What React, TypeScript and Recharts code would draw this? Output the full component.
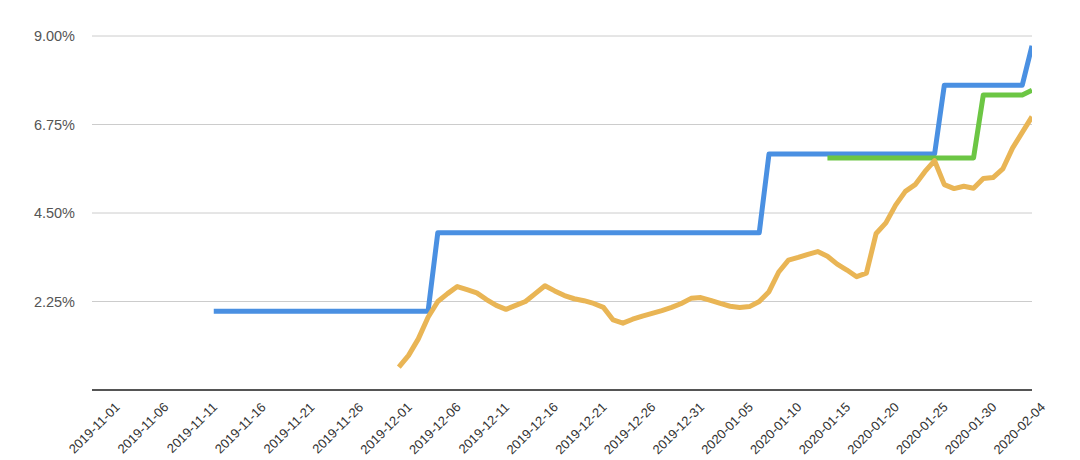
import React from 'react';
import { LineChart, Line, XAxis, YAxis, CartesianGrid } from 'recharts';

// x tick labels, one every 5 days (day index 0 = 2019-11-01)
const xTickLabels = [
  '2019-11-01', '2019-11-06', '2019-11-11', '2019-11-16', '2019-11-21',
  '2019-11-26', '2019-12-01', '2019-12-06', '2019-12-11', '2019-12-16',
  '2019-12-21', '2019-12-26', '2019-12-31', '2020-01-05', '2020-01-10',
  '2020-01-15', '2020-01-20', '2020-01-25', '2020-01-30', '2020-02-04',
];
const xTickDays = [0, 5, 10, 15, 20, 25, 30, 35, 40, 45, 50, 55, 60, 65, 70, 75, 80, 85, 90, 95];
const yTicks = [2.25, 4.5, 6.75, 9];

// blue series: from day 11 (2019-11-12) to day 95 (2020-02-04)
const blueStart = 11;
const blueValues = [
  2.0, 2.0, 2.0, 2.0, 2.0, 2.0, 2.0, 2.0, 2.0, 2.0, 2.0, 2.0, 2.0, 2.0, 2.0, 2.0, 2.0, 2.0, 2.0, 2.0, 2.0, 2.0, 2.0,
  4.0, 4.0, 4.0, 4.0, 4.0, 4.0, 4.0, 4.0, 4.0, 4.0, 4.0, 4.0, 4.0, 4.0, 4.0, 4.0, 4.0,
  4.0, 4.0, 4.0, 4.0, 4.0, 4.0, 4.0, 4.0, 4.0, 4.0, 4.0, 4.0, 4.0, 4.0, 4.0, 4.0, 4.0,
  6.0, 6.0, 6.0, 6.0, 6.0, 6.0, 6.0, 6.0, 6.0, 6.0, 6.0, 6.0, 6.0, 6.0, 6.0, 6.0, 6.0, 6.0,
  7.75, 7.75, 7.75, 7.75, 7.75, 7.75, 7.75, 7.75, 7.75,
  8.75,
];

// green series: from day 74 (2020-01-13) to day 95
const greenStart = 74;
const greenValues = [
  5.9, 5.9, 5.9, 5.9, 5.9, 5.9, 5.9, 5.9, 5.9, 5.9, 5.9, 5.9, 5.9, 5.9, 5.9, 5.9,
  7.5, 7.5, 7.5, 7.5, 7.5,
  7.62,
];

// orange series: from day 30 (2019-12-01) to day 95
const orangeStart = 30;
const orangeValues = [
  0.58, 0.88, 1.3, 1.85, 2.25, 2.45, 2.63, 2.55, 2.47, 2.3,
  2.15, 2.05, 2.15, 2.25, 2.45, 2.65, 2.52, 2.4, 2.32, 2.27,
  2.2, 2.1, 1.78, 1.7, 1.8, 1.88, 1.95, 2.02, 2.1, 2.2,
  2.33, 2.35, 2.28, 2.2, 2.13, 2.1, 2.12, 2.25, 2.5, 3.0,
  3.3, 3.37, 3.45, 3.52, 3.4, 3.2, 3.05, 2.88, 2.97, 3.98,
  4.25, 4.7, 5.05, 5.22, 5.55, 5.83, 5.22, 5.12, 5.18, 5.13,
  5.38, 5.4, 5.62, 6.15, 6.55, 6.95,
];

const LAST_DAY = 95;

const rows: any[] = [];
for (let d = 0; d <= LAST_DAY; d++) {
  const row: any = { d };
  if (d >= blueStart && d - blueStart < blueValues.length) row.blue = blueValues[d - blueStart];
  if (d >= greenStart && d - greenStart < greenValues.length) row.green = greenValues[d - greenStart];
  if (d >= orangeStart && d - orangeStart < orangeValues.length) row.orange = orangeValues[d - orangeStart];
  rows.push(row);
}

const labelFor = (d: number) => {
  const i = xTickDays.indexOf(d);
  return i >= 0 ? xTickLabels[i] : '';
};

const XTick = (props: any) => {
  const { x, y, payload } = props;
  const ax = x + 14;
  const ay = y + 18;
  return (
    <text
      x={ax}
      y={ay}
      transform={`rotate(-45 ${ax} ${ay})`}
      textAnchor="end"
      fill="#333"
      fontSize={13}
      fontFamily="Liberation Sans, Arial, sans-serif"
    >
      {labelFor(payload.value)}
    </text>
  );
};

export default function App() {
  return (
    <div style={{ position: 'absolute', left: 0, top: 0, width: 1080, height: 460, background: '#fff', overflow: 'hidden' }}>
      <LineChart
        width={1080}
        height={460}
        data={rows}
        margin={{ top: 36, right: 48, bottom: 0, left: 8 }}
      >
        <CartesianGrid horizontal vertical={false} stroke="#cccccc" strokeWidth={1} />
        <XAxis
          dataKey="d"
          type="number"
          domain={[-1.5, 95]}
          ticks={xTickDays}
          interval={0}
          tick={<XTick />}
          tickLine={false}
          tickSize={0}
          tickMargin={0}
          height={70}
          axisLine={{ stroke: '#555', strokeWidth: 2 }}
          allowDataOverflow
        />
        <YAxis
          type="number"
          domain={[0, 9]}
          ticks={yTicks}
          width={84}
          axisLine={false}
          tickLine={false}
          tickSize={0}
          tickMargin={17}
          tickFormatter={(v: number) => `${v.toFixed(2)}%`}
          tick={{ fill: '#555', fontSize: 14.5, fontFamily: 'Liberation Sans, Arial, sans-serif' }}
        />
        <Line
          type="linear"
          dataKey="blue"
          stroke="#4a90e2"
          strokeWidth={5}
          dot={false}
          activeDot={false}
          strokeLinejoin="round"
          isAnimationActive={false}
        />
        <Line
          type="linear"
          dataKey="green"
          stroke="#6cc644"
          strokeWidth={5}
          dot={false}
          activeDot={false}
          strokeLinejoin="round"
          isAnimationActive={false}
        />
        <Line
          type="linear"
          dataKey="orange"
          stroke="#e9b555"
          strokeWidth={5}
          dot={false}
          activeDot={false}
          strokeLinejoin="round"
          isAnimationActive={false}
        />
      </LineChart>
    </div>
  );
}
